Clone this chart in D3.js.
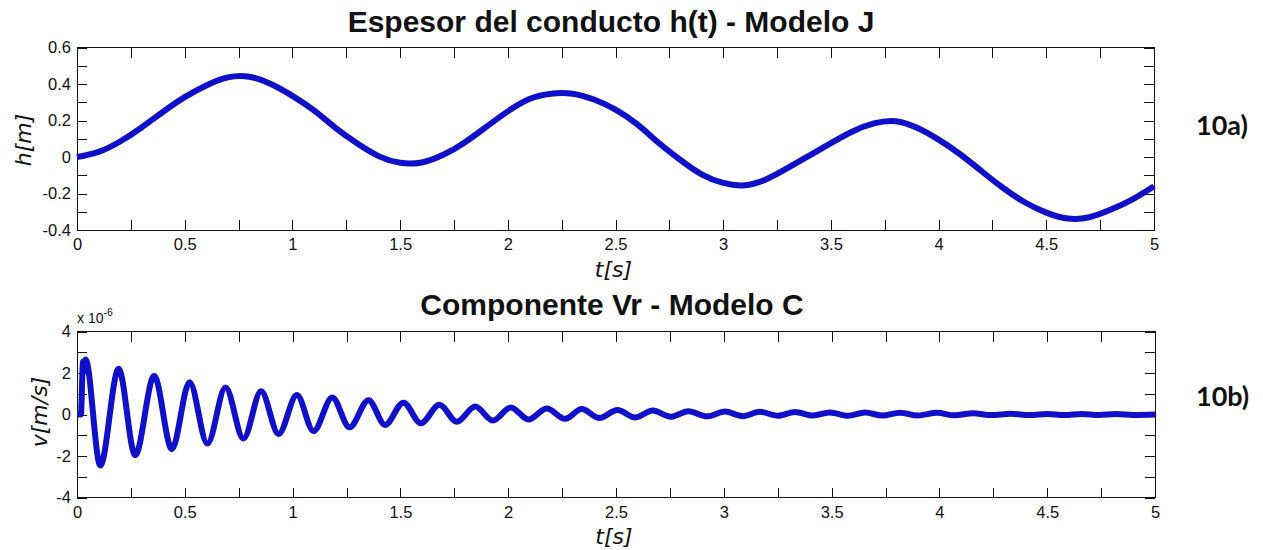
<!DOCTYPE html>
<html>
<head>
<meta charset="utf-8">
<script src="https://cdn.jsdelivr.net/npm/d3@7"></script>
<style>
  html, body { margin: 0; padding: 0; background: #fff; overflow: hidden; }
  svg text { fill: #111; }
</style>
</head>
<body>
<svg id="fig" width="1263" height="550"></svg>
<script>
// Duct thickness h(t), model J  [s], [m]
const hTime  = [0, 0.1, 0.2, 0.3, 0.4, 0.5, 0.6, 0.7, 0.8, 0.9,
                1.0, 1.1, 1.2, 1.3, 1.4, 1.5, 1.6, 1.7, 1.8, 1.9,
                2.0, 2.1, 2.2, 2.3, 2.4, 2.5, 2.6, 2.7, 2.8, 2.9,
                3.0, 3.1, 3.2, 3.3, 3.4, 3.5, 3.6, 3.7, 3.8, 3.9,
                4.0, 4.1, 4.2, 4.3, 4.4, 4.5, 4.6, 4.7, 4.8, 4.9, 5.0];
const hValue = [0.000, 0.028, 0.085, 0.162, 0.248, 0.328, 0.392, 0.436, 0.440, 0.400,
                0.335, 0.255, 0.160, 0.075, 0.005, -0.032, -0.030, 0.012, 0.080, 0.165,
                0.250, 0.318, 0.347, 0.347, 0.315, 0.260, 0.180, 0.078, -0.015, -0.095,
                -0.142, -0.155, -0.122, -0.060, 0.008, 0.076, 0.140, 0.184, 0.196, 0.160,
                0.095, 0.015, -0.078, -0.170, -0.248, -0.305, -0.337, -0.330, -0.288, -0.232, -0.160];

// Radial velocity component Vr, model C  [s], [m/s] x 1e-6
const vrTime  = [0, 0.018, 0.028, 0.034, 0.040,
                 0.108, 0.193, 0.270, 0.358, 0.440, 0.522, 0.605, 0.689, 0.772, 0.854,
                 0.935, 1.020, 1.097, 1.184, 1.264, 1.352, 1.429, 1.514, 1.595, 1.681,
                 1.762, 1.847, 1.929, 2.012, 2.094, 2.179, 2.264, 2.341, 2.423, 2.506,
                 2.589, 2.670, 2.754, 2.835, 2.921, 3.006, 3.088, 3.168, 3.250, 3.330,
                 3.415, 3.492, 3.575, 3.655, 3.735, 3.817, 3.900, 3.989, 4.070, 4.156,
                 4.24, 4.33, 4.42, 4.50, 4.58, 4.66, 4.74, 4.82, 4.90, 5.0];
const vrValue = [0, 0, 2.55, 2.1, 2.65,
                 -2.46, 2.2, -1.96, 1.86, -1.67, 1.56, -1.40, 1.30, -1.16, 1.12,
                 -0.94, 0.94, -0.80, 0.82, -0.62, 0.69, -0.50, 0.57, -0.42, 0.47,
                 -0.35, 0.38, -0.29, 0.34, -0.24, 0.29, -0.21, 0.26, -0.17, 0.22,
                 -0.14, 0.19, -0.11, 0.16, -0.09, 0.14, -0.08, 0.13, -0.06, 0.12,
                 -0.05, 0.10, -0.06, 0.10, -0.05, 0.09, -0.05, 0.08, -0.04, 0.06,
                 -0.03, 0.04, -0.03, 0.03, -0.03, 0.03, -0.02, 0.02, -0.02, 0.0];

// Ticks and tick labels
const timeTicks  = [0, 0.25, 0.5, 0.75, 1, 1.25, 1.5, 1.75, 2, 2.25, 2.5, 2.75, 3, 3.25, 3.5, 3.75, 4, 4.25, 4.5, 4.75, 5];
const timeLabels = [0, 0.5, 1, 1.5, 2, 2.5, 3, 3.5, 4, 4.5, 5];
const hTicks  = [-0.4, -0.3, -0.2, -0.1, 0, 0.1, 0.2, 0.3, 0.4, 0.5, 0.6];
const hLabels = [-0.4, -0.2, 0, 0.2, 0.4, 0.6];
const vrTicks  = [-4, -3, -2, -1, 0, 1, 2, 3, 4];
const vrLabels = [-4, -2, 0, 2, 4];

const svg = d3.select("#fig");
svg.append("rect").attr("width", 1263).attr("height", 550).attr("fill", "#fff");

const LINE_BLUE = "#1010c8";
const TICK_FONT = "'Liberation Sans', Arial, sans-serif";
const LABEL_FONT = "'DejaVu Sans', sans-serif";

function labelFormat(labels) {
  return v => labels.some(l => Math.abs(l - v) < 1e-9) ? String(v) : "";
}

function drawPanel(o) {
  const g = svg.append("g");
  const x = d3.scaleLinear().domain([0, 5]).range([o.left, o.right]);
  const y = d3.scaleLinear().domain(o.yDomain).range([o.bottom, o.top]);

  const styleAxis = sel => {
    sel.select(".domain").remove();
    sel.selectAll(".tick line").attr("stroke", "#111").attr("shape-rendering", "crispEdges");
    sel.selectAll(".tick text").attr("font-family", TICK_FONT).attr("font-size", 16.5).attr("fill", "#222");
  };

  g.append("g").attr("transform", `translate(0,${o.bottom})`)
    .call(d3.axisBottom(x).tickValues(timeTicks).tickSize(-10).tickSizeOuter(0)
      .tickPadding(o.xPad).tickFormat(labelFormat(timeLabels)))
    .call(styleAxis);
  g.append("g").attr("transform", `translate(0,${o.top})`)
    .call(d3.axisTop(x).tickValues(timeTicks).tickSize(-10).tickSizeOuter(0).tickFormat(""))
    .call(styleAxis);
  g.append("g").attr("transform", `translate(${o.left},0)`)
    .call(d3.axisLeft(y).tickValues(o.yTicks).tickSize(-10).tickSizeOuter(0)
      .tickPadding(6).tickFormat(labelFormat(o.yLabels)))
    .call(styleAxis);
  g.append("g").attr("transform", `translate(${o.right},0)`)
    .call(d3.axisRight(y).tickValues(o.yTicks).tickSize(-10).tickSizeOuter(0).tickFormat(""))
    .call(styleAxis);

  g.append("rect")
    .attr("x", o.left).attr("y", o.top)
    .attr("width", o.right - o.left).attr("height", o.bottom - o.top)
    .attr("fill", "none").attr("stroke", "#111").attr("stroke-width", 1)
    .attr("shape-rendering", "crispEdges");

  const line = d3.line()
    .x((d, i) => x(o.t[i]))
    .y(d => y(d))
    .curve(o.curve);
  g.append("path")
    .attr("d", line(o.v))
    .attr("fill", "none")
    .attr("stroke", LINE_BLUE)
    .attr("stroke-width", 6)
    .attr("stroke-linejoin", "round")
    .attr("stroke-linecap", "butt");

  // Title
  g.append("text")
    .attr("x", o.titleX).attr("y", o.titleY)
    .attr("text-anchor", "middle")
    .attr("font-family", TICK_FONT).attr("font-weight", "bold").attr("font-size", 30)
    .text(o.title);

  // Axis labels
  g.append("text")
    .attr("x", (o.left + o.right) / 2 - 2).attr("y", o.xLabelY)
    .attr("text-anchor", "middle")
    .attr("font-family", LABEL_FONT).attr("font-style", "oblique").attr("font-size", 22)
    .text("t[s]");
  g.append("text")
    .attr("transform", `translate(${o.yLabelX},${o.yLabelCY}) rotate(-90)`)
    .attr("text-anchor", "middle")
    .attr("dominant-baseline", "central")
    .attr("font-family", LABEL_FONT).attr("font-style", "oblique").attr("font-size", 22)
    .text(o.yLabel);

  // Panel tag
  g.append("text")
    .attr("x", 1196).attr("y", o.tagY)
    .attr("font-family", "Lato, 'Open Sans', sans-serif").attr("font-weight", "bold").attr("font-size", 27)
    .attr("fill", "#000")
    .text(o.tag);

  return { x, y, g };
}

drawPanel({
  left: 77, right: 1154, top: 47.5, bottom: 230,
  yDomain: [-0.4, 0.6], yTicks: hTicks, yLabels: hLabels,
  t: hTime, v: hValue, curve: d3.curveNatural,
  xPad: 8,
  title: "Espesor del conducto h(t) - Modelo J", titleX: 611, titleY: 32,
  xLabelY: 277, yLabel: "h[m]", yLabelX: 23, yLabelCY: 140,
  tag: "10a)", tagY: 135
});

const bottom = drawPanel({
  left: 77, right: 1155, top: 331.5, bottom: 497.5,
  yDomain: [-4, 4], yTicks: vrTicks, yLabels: vrLabels,
  t: vrTime, v: vrValue, curve: d3.curveMonotoneX,
  xPad: 9,
  title: "Componente Vr - Modelo C", titleX: 612, titleY: 315,
  xLabelY: 544, yLabel: "v[m/s]", yLabelX: 39, yLabelCY: 412,
  tag: "10b)", tagY: 406
});

// Exponent marker for the velocity axis
const expo = bottom.g.append("text")
  .attr("x", 77).attr("y", 323)
  .attr("font-family", TICK_FONT).attr("font-size", 14).attr("fill", "#222");
expo.append("tspan").text("x 10");
expo.append("tspan").attr("dy", -7).attr("font-size", 10.5).text("-6");
</script>
</body>
</html>
